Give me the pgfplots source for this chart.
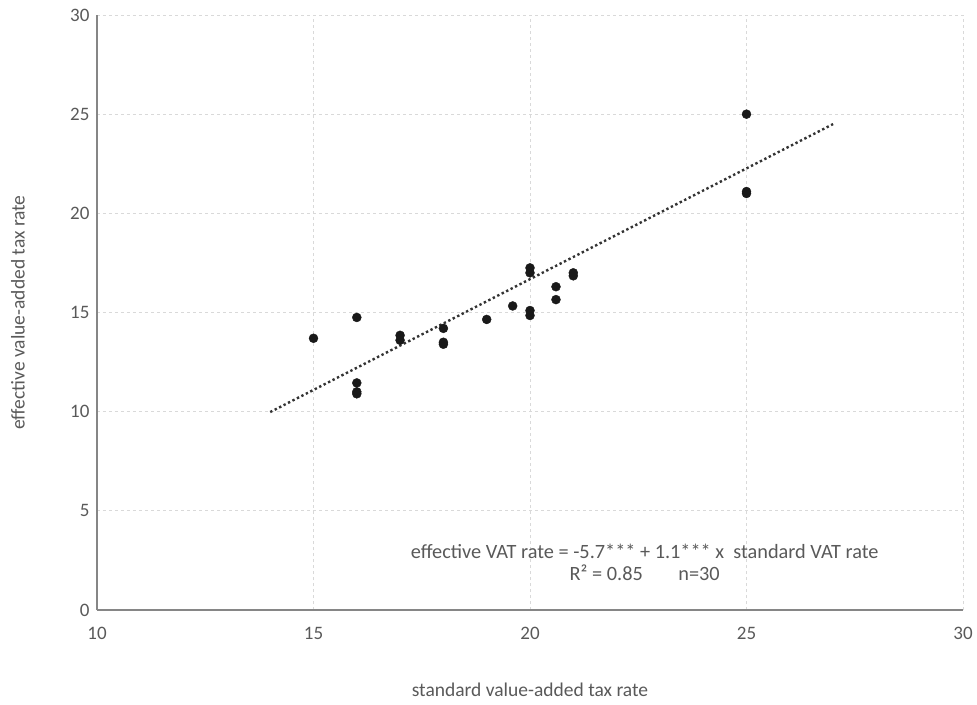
\documentclass[border=0pt]{standalone}
\usepackage{pgfplots}
\pgfplotsset{compat=1.18}
\usepackage{fontspec}
\setmainfont{Carlito}
\definecolor{txt}{HTML}{595959}
\definecolor{gridc}{HTML}{D9D9D9}
\definecolor{axc}{HTML}{868686}
\begin{document}
\begin{tikzpicture}
\path[use as bounding box] (-97pt,-94pt) rectangle (880pt,610pt);
\begin{axis}[
  at={(0,0)}, anchor=south west,
  scale only axis, width=866pt, height=595pt,
  xmin=10, xmax=30, ymin=0, ymax=30,
  xtick={10,15,20,25,30}, ytick={0,5,10,15,20,25,30},
  axis x line*=bottom, axis y line*=left,
  axis line style={axc, line width=1.2pt, -},
  major tick length=0pt,
  grid=major, major grid style={gridc, dashed, line width=0.8pt},
  tick label style={font=\fontsize{19}{22}\selectfont, text=txt},
  /pgf/number format/assume math mode=true,
  xticklabel style={yshift=-14pt},
  yticklabel style={xshift=-4pt},
  xlabel={standard value-added tax rate},
  ylabel={effective value-added tax rate},
  label style={font=\fontsize{19.5}{22}\selectfont, text=txt},
  xlabel style={at={(axis description cs:0.5,0)}, anchor=center, yshift=-80pt},
  ylabel style={at={(axis description cs:0,0.5)}, anchor=center, yshift=79pt},
  clip=false,
]
\addplot[only marks, mark=*, mark size=4.5pt, mark options={fill=black!90, draw=black!90}] coordinates {
 (15,13.7)
 (16,14.75) (16,11.45) (16,11.0) (16,10.9)
 (17,13.85) (17,13.6)
 (18,14.2) (18,13.5) (18,13.4)
 (19,14.65)
 (19.6,15.33)
 (20,17.25) (20,17.0) (20,15.1) (20,14.85)
 (20.6,16.3) (20.6,15.65)
 (21,17.0) (21,16.85)
 (25,25.0) (25,21.1) (25,21.0)
};
\addplot[black!80, line width=2.4pt, dash pattern=on 2.4pt off 2.6pt] coordinates {(14,9.98) (27,24.5)};
\node[font=\fontsize{20.3}{23}\selectfont, text=txt, align=center, anchor=center] at (axis cs:22.65,2.42)
 {effective VAT rate = -5.7*** + 1.1*** x \ standard VAT rate\\[-1pt] R² = 0.85 \hspace{1.3em} n=30};
\end{axis}
\end{tikzpicture}
\end{document}
